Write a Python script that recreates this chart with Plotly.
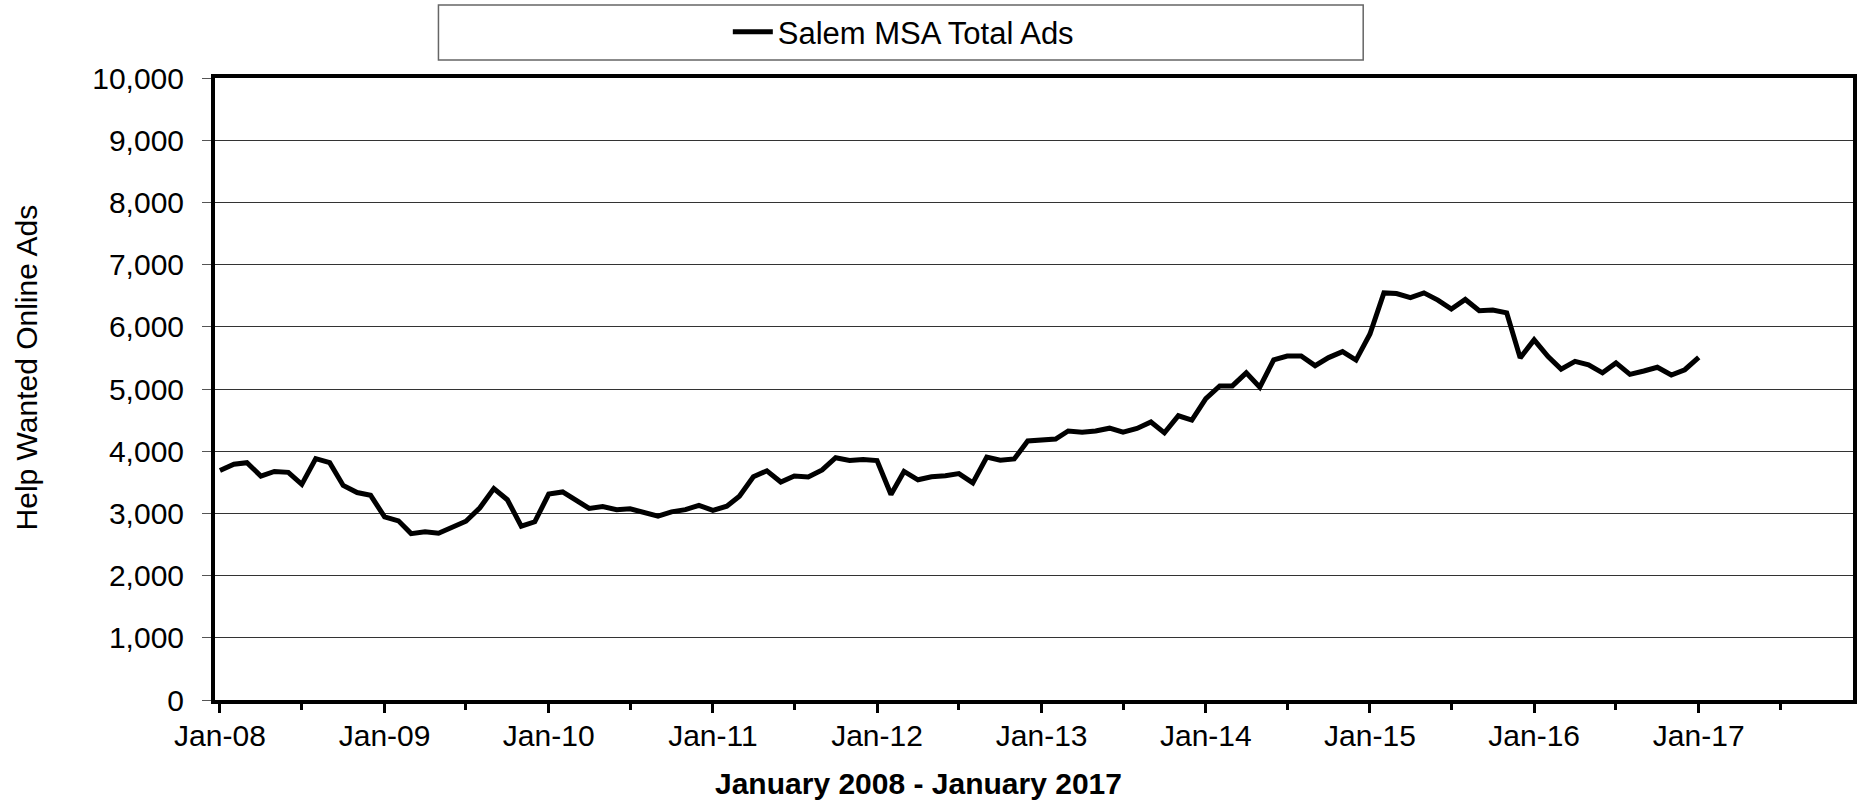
import pandas as pd
import plotly.graph_objects as go

# monthly help wanted online ads, Jan-08 .. Jan-17
series_name = "Salem MSA Total Ads"
start_month = "2008-01-01"
total_ads = [
    3690, 3790, 3815, 3600, 3675, 3660, 3467, 3880, 3815, 3450, 3335, 3290,
    2945, 2880, 2675, 2705, 2680, 2785, 2875, 3090, 3400, 3220, 2795, 2865,
    3310, 3345, 3225, 3080, 3110, 3060, 3075, 3010, 2955, 3025, 3060, 3130,
    3050, 3115, 3275, 3590, 3685, 3505, 3600, 3585, 3700, 3895, 3850, 3865,
    3850, 3305, 3675, 3540, 3590, 3605, 3640, 3490, 3905, 3855, 3875, 4165,
    4180, 4195, 4325, 4305, 4325, 4370, 4305, 4365, 4470, 4295, 4570, 4500,
    4845, 5050, 5050, 5260, 5030, 5470, 5530, 5530, 5375, 5505, 5600, 5465,
    5885, 6545, 6535, 6470, 6545, 6430, 6285, 6440, 6260, 6270, 6225, 5500,
    5790, 5520, 5320, 5445, 5390, 5260, 5420, 5235, 5290, 5350, 5225, 5310,
    5510,
]
months = pd.date_range(start_month, periods=len(total_ads), freq="MS")

y_title = "Help Wanted Online Ads"
x_title = "January 2008 - January 2017"

W, H = 1858, 800
L, R, T, B = 215, 1, 78, 100
FONT = "Liberation Sans, Arial, sans-serif"


def px(x):
    return (x - L) / (W - L - R)


def py(y):
    return (H - B - y) / (H - T - B)


fig = go.Figure()
fig.add_trace(go.Scatter(x=months, y=total_ads, mode="lines", name=series_name,
                         line=dict(color="black", width=5), showlegend=True))

# legend frame
fig.add_shape(type="rect", xref="paper", yref="paper",
              x0=px(439), x1=px(1366), y0=py(60), y1=py(5),
              line=dict(color="#666666", width=1.5), fillcolor="white", layer="below")

fig.add_annotation(xref="paper", yref="paper", x=px(26), y=py(367), text=y_title,
                   textangle=-90, showarrow=False, xanchor="center", yanchor="middle",
                   font=dict(family=FONT, size=30, color="black"))
fig.add_annotation(xref="paper", yref="paper", x=px(920), y=py(783), text="<b>" + x_title + "</b>",
                   showarrow=False, xanchor="center", yanchor="middle",
                   font=dict(family=FONT, size=30, color="black"))

fig.update_layout(
    width=W, height=H,
    margin=dict(l=L, r=R, t=T, b=B),
    plot_bgcolor="white", paper_bgcolor="white",
    font=dict(family=FONT, size=30, color="black"),
    legend=dict(orientation="h", x=px(905), y=py(32), xanchor="center", yanchor="middle",
                bgcolor="rgba(0,0,0,0)", font=dict(size=31), itemwidth=40),
    xaxis=dict(type="date", range=["2007-12-21", "2017-12-10"],
               tick0="2008-01-01", dtick="M12", tickformat="%b-%y",
               ticks="outside", ticklen=9, tickwidth=3, tickcolor="black",
               showline=True, linecolor="black", linewidth=4, mirror=True,
               showgrid=False, zeroline=False, ticklabelstandoff=-3,
               minor=dict(dtick="M6", tick0="2008-01-01", ticks="outside", ticklen=6,
                          tickwidth=3, tickcolor="black", showgrid=False)),
    yaxis=dict(range=[0, 10000], dtick=1000, tickformat=",",
               ticks="outside", ticklen=9, tickwidth=1, tickcolor="#555555",
               showline=True, linecolor="black", linewidth=4, mirror=True,
               showgrid=True, gridcolor="#333333", gridwidth=1, zeroline=False,
               ticklabelstandoff=12),
)

fig.write_html("out.html", config={"displayModeBar": False},
               post_script="document.body.style.margin='0';")
